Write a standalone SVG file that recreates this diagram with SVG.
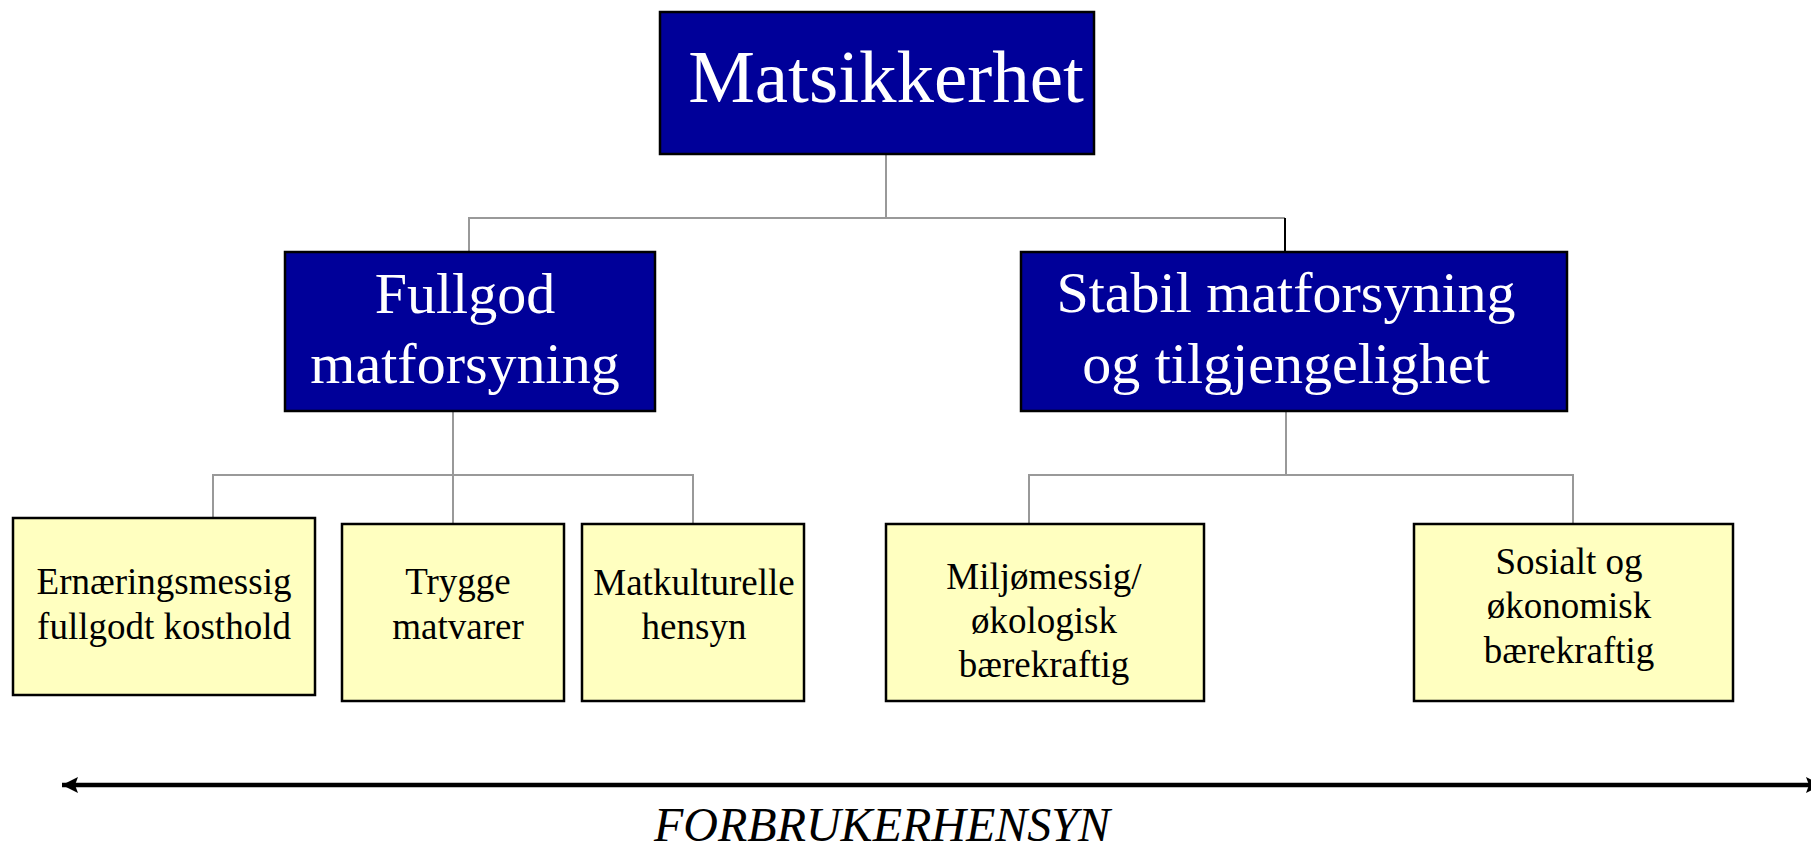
<svg xmlns="http://www.w3.org/2000/svg" width="1811" height="849" viewBox="0 0 1811 849">
<style>
  .blue { fill: #000099; stroke: #000000; stroke-width: 2.5; }
  .yellow { fill: #FFFFC0; stroke: #000000; stroke-width: 2.5; }
  .wt { font-family: "Liberation Serif", "Times New Roman", serif; fill: #FFFFFF; text-anchor: middle; }
  .bt { font-family: "Liberation Serif", "Times New Roman", serif; fill: #000000; text-anchor: middle; font-size: 37px; }
  .conn { fill: none; stroke: #999999; stroke-width: 2; }
</style>
<defs>
  <marker id="ah" viewBox="0 0 16 16" refX="16" refY="8" markerWidth="16" markerHeight="16" markerUnits="userSpaceOnUse" orient="auto-start-reverse">
    <path d="M0,0 L16,8 L0,16 L3,8 Z" fill="#000000"/>
  </marker>
</defs>
<rect width="1811" height="849" fill="#FFFFFF"/>
<g id="connectors">
  <polyline class="conn" points="886,154 886,218"/>
  <polyline class="conn" points="469,252 469,218 1285,218"/>
  <line x1="1285" y1="218" x2="1285" y2="252" stroke="#000000" stroke-width="2"/>
  <polyline class="conn" points="453,411 453,524"/>
  <polyline class="conn" points="213,527 213,475 693,475 693,524"/>
  <polyline class="conn" points="1286,411 1286,475"/>
  <polyline class="conn" points="1029,524 1029,475 1573,475 1573,524"/>
  <line x1="62" y1="785" x2="1822" y2="785" stroke="#000000" stroke-width="4.5" marker-start="url(#ah)" marker-end="url(#ah)"/>
</g>
<g id="matsikkerhet">
  <rect class="blue" x="660" y="12" width="434" height="142"/>
  <text class="wt" x="886" y="102" font-size="75">Matsikkerhet</text>
</g>
<g id="fullgod">
  <rect class="blue" x="285" y="252" width="370" height="159"/>
  <text class="wt" x="465" y="313" font-size="58">Fullgod</text>
  <text class="wt" x="465" y="383" font-size="58">matforsyning</text>
</g>
<g id="stabil">
  <rect class="blue" x="1021" y="252" width="546" height="159"/>
  <text class="wt" x="1286" y="312" font-size="58">Stabil matforsyning</text>
  <text class="wt" x="1286" y="383" font-size="58">og tilgjengelighet</text>
</g>
<g id="ernaering">
  <rect class="yellow" x="13" y="518" width="302" height="177"/>
  <text class="bt" x="164" y="594">Ernæringsmessig</text>
  <text class="bt" x="164" y="639">fullgodt kosthold</text>
</g>
<g id="trygge">
  <rect class="yellow" x="342" y="524" width="222" height="177"/>
  <text class="bt" x="458" y="594">Trygge</text>
  <text class="bt" x="458" y="639">matvarer</text>
</g>
<g id="matkulturelle">
  <rect class="yellow" x="582" y="524" width="222" height="177"/>
  <text class="bt" x="694" y="595">Matkulturelle</text>
  <text class="bt" x="694" y="639">hensyn</text>
</g>
<g id="miljo">
  <rect class="yellow" x="886" y="524" width="318" height="177"/>
  <text class="bt" x="1044" y="589">Miljømessig/</text>
  <text class="bt" x="1044" y="633">økologisk</text>
  <text class="bt" x="1044" y="677">bærekraftig</text>
</g>
<g id="sosialt">
  <rect class="yellow" x="1414" y="524" width="319" height="177"/>
  <text class="bt" x="1569" y="574">Sosialt og</text>
  <text class="bt" x="1569" y="618">økonomisk</text>
  <text class="bt" x="1569" y="663">bærekraftig</text>
</g>
<g id="forbrukerhensyn">
  <text x="882" y="841" font-family="Liberation Serif, Times New Roman, serif" font-style="italic" font-size="48" text-anchor="middle" fill="#000000">FORBRUKERHENSYN</text>
</g>
</svg>
